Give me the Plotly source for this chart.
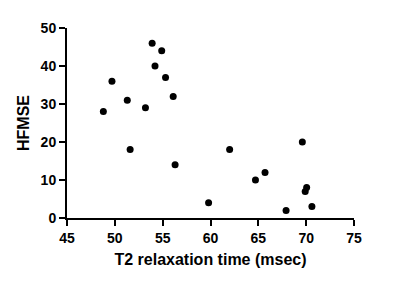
import plotly.graph_objects as go

t2_msec = [48.8, 49.7, 51.3, 51.6, 53.2, 53.9, 54.2, 54.9, 55.3, 56.1,
           56.3, 59.8, 62.0, 64.7, 65.7, 67.9, 69.6, 70.05, 69.9, 70.6]
hfmse = [28, 36, 31, 18, 29, 46, 40, 44, 37, 32,
         14, 4, 18, 10, 12, 2, 20, 8, 7, 3]

x_ticks = [45, 50, 55, 60, 65, 70, 75]
y_ticks = [0, 10, 20, 30, 40, 50]

FONT = "Liberation Sans, Arial, sans-serif"

fig = go.Figure(go.Scatter(
    x=t2_msec, y=hfmse, mode="markers",
    marker=dict(color="black", size=7),
    cliponaxis=False, showlegend=False,
))

axis_common = dict(
    showgrid=False, zeroline=False,
    showline=True, linecolor="black", linewidth=2,
    ticks="outside", ticklen=6, tickwidth=2, tickcolor="black",
    tickfont=dict(family=FONT, size=14, color="black", weight="bold"),
)

fig.update_xaxes(
    range=[45, 75], tickvals=x_ticks,
    title=dict(text="T2 relaxation time (msec)",
               font=dict(family=FONT, size=16, color="black", weight="bold"),
               standoff=9),
    **axis_common,
)
fig.update_yaxes(
    range=[0, 50], tickvals=y_ticks,
    title=dict(text="HFMSE",
               font=dict(family=FONT, size=16, color="black", weight="bold"),
               standoff=7),
    **axis_common,
)

fig.update_layout(
    width=392, height=275,
    margin=dict(l=59, r=46, t=20, b=65, autoexpand=False),
    plot_bgcolor="white", paper_bgcolor="white",
)

fig.write_html("out.html")
